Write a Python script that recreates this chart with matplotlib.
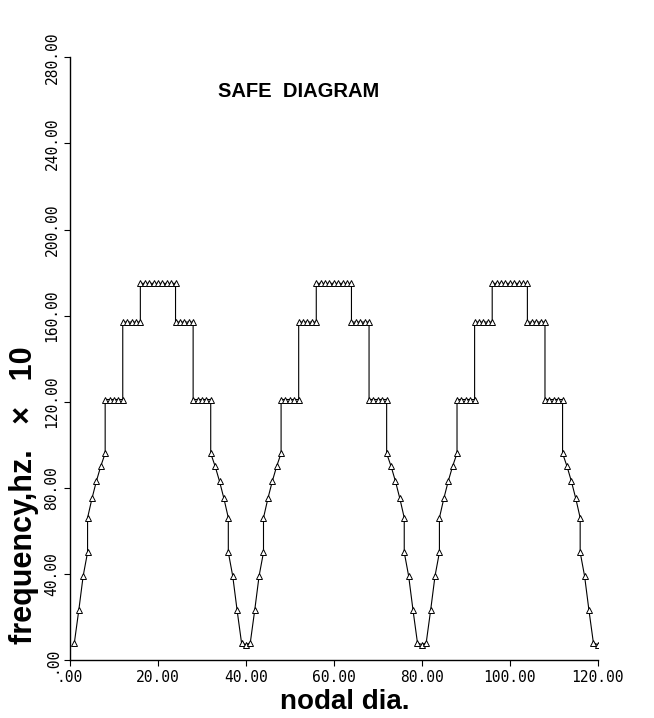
import matplotlib
matplotlib.use("Agg")
import matplotlib.pyplot as plt
from matplotlib.ticker import FuncFormatter, MultipleLocator

# nodal diameter / frequency (three sectors of 40)
nodal_1 = [1, 2, 3, 4, 4, 5, 6, 7, 8, 8, 9, 10, 11, 12, 12, 13, 14, 15, 16,
           16, 17, 18, 19, 20, 21, 22, 23, 24, 24, 25, 26, 27, 28, 28, 29, 30,
           31, 32, 32, 33, 34, 35, 36, 36, 37, 38, 39, 40]
nodal_2 = [41, 42, 43, 44, 44, 45, 46, 47, 48, 48, 49, 50, 51, 52, 52, 53, 54,
           55, 56, 56, 57, 58, 59, 60, 61, 62, 63, 64, 64, 65, 66, 67, 68, 68,
           69, 70, 71, 72, 72, 73, 74, 75, 76, 76, 77, 78, 79, 80]
nodal_3 = [81, 82, 83, 84, 84, 85, 86, 87, 88, 88, 89, 90, 91, 92, 92, 93, 94,
           95, 96, 96, 97, 98, 99, 100, 101, 102, 103, 104, 104, 105, 106, 107,
           108, 108, 109, 110, 111, 112, 112, 113, 114, 115, 116, 116, 117, 118,
           119, 120]

freq_1 = [8, 23, 39, 50, 66, 75, 83, 90, 96, 121, 121, 121, 121, 121, 157, 157,
          157, 157, 157, 175, 175, 175, 175, 175, 175, 175, 175, 175, 157, 157,
          157, 157, 157, 121, 121, 121, 121, 121, 96, 90, 83, 75, 66, 50, 39, 23,
          8, 7]
freq_2 = [8, 23, 39, 50, 66, 75, 83, 90, 96, 121, 121, 121, 121, 121, 157, 157,
          157, 157, 157, 175, 175, 175, 175, 175, 175, 175, 175, 175, 157, 157,
          157, 157, 157, 121, 121, 121, 121, 121, 96, 90, 83, 75, 66, 50, 39, 23,
          8, 7]
freq_3 = [8, 23, 39, 50, 66, 75, 83, 90, 96, 121, 121, 121, 121, 121, 157, 157,
          157, 157, 157, 175, 175, 175, 175, 175, 175, 175, 175, 175, 157, 157,
          157, 157, 157, 121, 121, 121, 121, 121, 96, 90, 83, 75, 66, 50, 39, 23,
          8, 7]

nodal = nodal_1 + nodal_2 + nodal_3
freq = freq_1 + freq_2 + freq_3

fig = plt.figure(figsize=(6.54, 7.18), dpi=100)
ax = fig.add_axes([0.107, 0.081, 0.807, 0.839])

ax.plot(nodal, freq, color="black", linewidth=0.8, marker="^", markersize=4.5,
        markerfacecolor="white", markeredgecolor="black", markeredgewidth=0.7)

ax.set_xlim(0, 120)
ax.set_ylim(0, 280)
ax.xaxis.set_major_locator(MultipleLocator(20))
ax.yaxis.set_major_locator(MultipleLocator(40))

def fmt(v, pos):
    s = "%.2f" % v
    if s.startswith("0."):
        s = s[1:]
    return s

ax.xaxis.set_major_formatter(FuncFormatter(fmt))
ax.yaxis.set_major_formatter(FuncFormatter(fmt))

for sp in ["top", "right"]:
    ax.spines[sp].set_visible(False)
for sp in ["left", "bottom"]:
    ax.spines[sp].set_linewidth(1.0)

ax.tick_params(direction="out", length=4, width=0.8, labelsize=10.5)
for lab in ax.get_xticklabels():
    lab.set_family("DejaVu Sans Mono")
for lab in ax.get_yticklabels():
    lab.set_family("DejaVu Sans Mono")
    lab.set_rotation(90)
    lab.set_va("center")

fig.text(0.457, 0.873, "SAFE  DIAGRAM", ha="center", va="center",
         fontsize=14.5, fontweight="bold", family="Liberation Sans")
fig.text(0.527, 0.022, "nodal dia.", ha="center", va="center",
         fontsize=20, fontweight="bold", family="Liberation Sans")
fig.text(0.036, 0.31, "frequency,hz.   \u00d7   10", ha="center", va="center",
         rotation=90, fontsize=22, fontweight="bold", family="Liberation Sans")

fig.savefig("out.png", dpi=100)
